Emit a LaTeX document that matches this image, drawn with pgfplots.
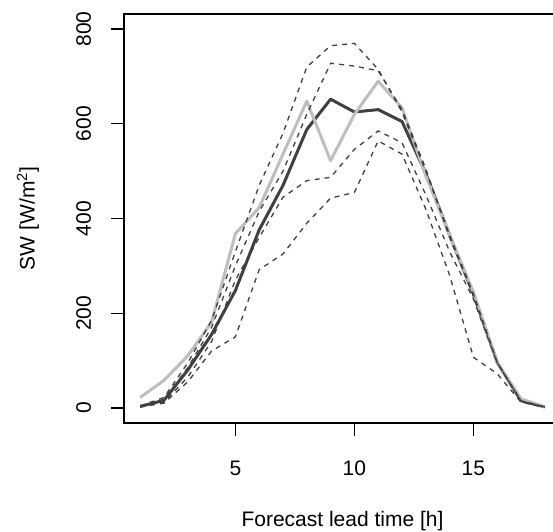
\documentclass[border=0pt]{standalone}
\usepackage{fontspec}
\setmainfont{Liberation Sans}
\usepackage{pgfplots}
\pgfplotsset{compat=1.18}
\definecolor{darkline}{HTML}{404040}
\definecolor{lightline}{HTML}{BEBEBE}
\begin{document}
\fontsize{21bp}{25bp}\selectfont
\begin{tikzpicture}
\useasboundingbox (0,0) rectangle (553bp,532bp);
\begin{axis}[
  at={(124bp,109bp)}, anchor=south west,
  scale only axis, width=437bp, height=409bp,
  xmin=0.32, xmax=18.68, ymin=-32, ymax=832,
  axis line style={line width=1.3bp},
  xtick={5,10,15}, ytick={0,200,400,600,800},
  xtick pos=left, ytick pos=left,
  tick align=outside, major tick length=12.6bp,
  tick style={line width=1.3bp, black},
  /pgf/number format/assume math mode=true,
  xticklabel style={anchor=base, inner sep=0pt, yshift=-39.5bp},
  yticklabel style={xshift=-20.5bp, rotate=90, anchor=base, inner sep=0pt},
  xlabel={Forecast lead time [h]},
  ylabel={SW [W/m\textsuperscript{2}]},
  xlabel style={at={(axis description cs:0.5,-0.253)}, anchor=base, inner sep=0pt},
  ylabel style={at={(axis description cs:-0.22,0.5)}, rotate=0, anchor=center, inner sep=0pt},
  clip=false,
]
\addplot[darkline, line width=3bp, line join=round] coordinates {
(1,3) (2,16) (3,80) (4,155) (5,248) (6,376) (7,470) (8,588) (9,652) (10,625) (11,630) (12,605) (13,495) (14,365) (15,240) (16,96) (17,15) (18,2)};
\addplot[lightline, line width=3bp, line join=round] coordinates {
(1,22) (2,58) (3,110) (4,181) (5,368) (6,423) (7,536) (8,648) (9,522) (10,620) (11,690) (12,634) (13,490) (14,365) (15,245) (16,96) (17,19) (18,2)};
\addplot[darkline, line width=1.3bp, dash pattern=on 5bp off 5bp] coordinates {
(1,4) (2,22) (3,95) (4,185) (5,330) (6,470) (7,580) (8,720) (9,765) (10,770) (11,715) (12,625) (13,500) (14,365) (15,240) (16,96) (17,15) (18,2)};
\addplot[darkline, line width=1.3bp, dash pattern=on 5bp off 5bp] coordinates {
(1,3) (2,18) (3,85) (4,170) (5,300) (6,415) (7,500) (8,620) (9,728) (10,722) (11,712) (12,630) (13,505) (14,360) (15,238) (16,95) (17,14) (18,2)};
\addplot[darkline, line width=1.3bp, dash pattern=on 5bp off 5bp] coordinates {
(1,2) (2,12) (3,65) (4,140) (5,270) (6,360) (7,445) (8,480) (9,487) (10,546) (11,585) (12,560) (13,450) (14,330) (15,230) (16,95) (17,15) (18,2)};
\addplot[darkline, line width=1.3bp, dash pattern=on 5bp off 5bp] coordinates {
(1,2) (2,10) (3,55) (4,120) (5,150) (6,292) (7,325) (8,390) (9,443) (10,455) (11,564) (12,536) (13,420) (14,280) (15,107) (16,72) (17,12) (18,1)};
\end{axis}
\end{tikzpicture}
\end{document}
